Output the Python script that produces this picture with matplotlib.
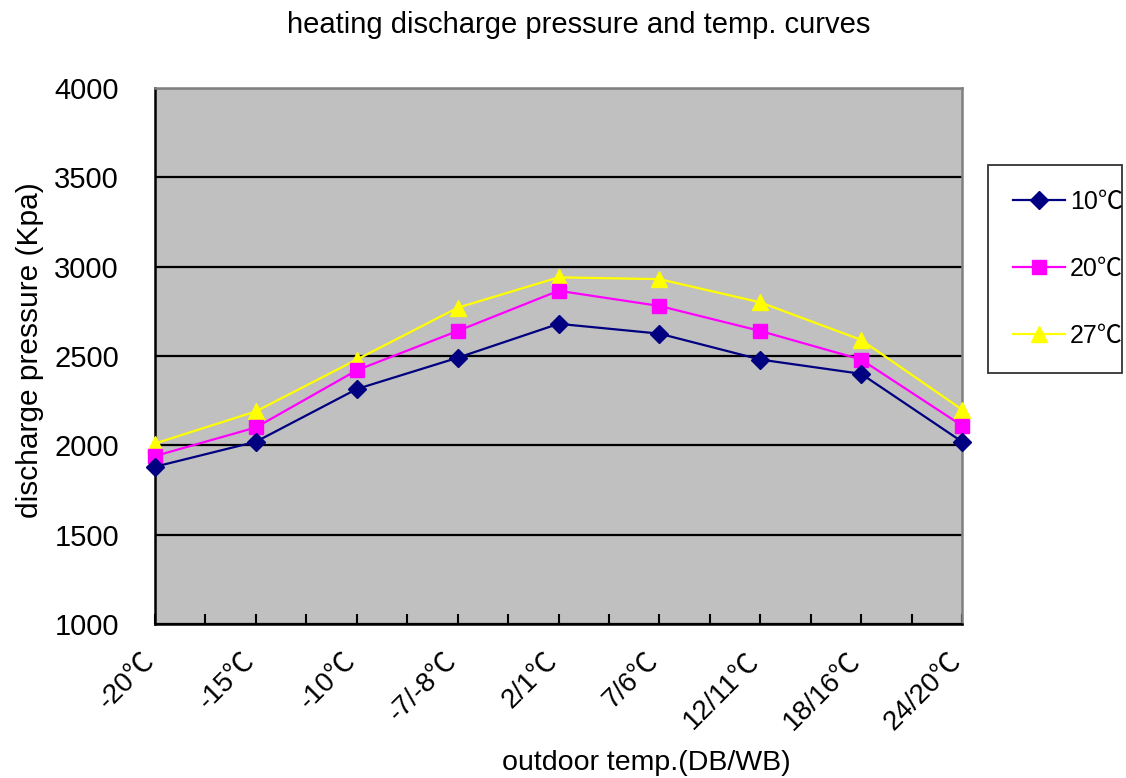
import matplotlib.pyplot as plt
import matplotlib.transforms as mtransforms

plt.rcParams['font.family'] = ['Liberation Sans', 'Noto Sans CJK SC', 'DejaVu Sans']

# outdoor conditions (DB/WB)
categorias = ['-20℃', '-15℃', '-10℃', '-7/-8℃', '2/1℃',
              '7/6℃', '12/11℃', '18/16℃', '24/20℃']
# discharge pressure (Kpa) per indoor temp
p_10 = [1880, 2020, 2315, 2490, 2680, 2625, 2480, 2400, 2020]
p_20 = [1940, 2100, 2420, 2640, 2865, 2780, 2640, 2480, 2110]
p_27 = [2010, 2190, 2480, 2770, 2940, 2930, 2800, 2590, 2200]
series = ['10℃', '20℃', '27℃']
yticks = [1000, 1500, 2000, 2500, 3000, 3500, 4000]

fig = plt.figure(figsize=(11.26, 7.78), dpi=100)
ax = fig.add_axes([0.1377, 0.198, 0.7167, 0.6889])
ax.set_facecolor('#C0C0C0')

x = list(range(len(categorias)))
ax.plot(x, p_10, color='#000080', lw=1.6, marker='D', ms=9,
        label=series[0], clip_on=False, zorder=5)
ax.plot(x, p_20, color='#FF00FF', lw=1.6, marker='s', ms=10,
        label=series[1], clip_on=False, zorder=4)
ax.plot(x, p_27, color='#FFFF00', lw=1.6, marker='^', ms=11,
        label=series[2], clip_on=False, zorder=3)

ax.set_xlim(0, len(categorias) - 1)
ax.set_ylim(1000, 4000)
ax.set_yticks(yticks)
ax.yaxis.grid(True, color='black', lw=1.6)
ax.set_axisbelow(True)
ax.tick_params(axis='y', length=0, labelsize=21, pad=26)

ax.set_xticks(x)
ax.set_xticks([i + 0.5 for i in x[:-1]], minor=True)
ax.tick_params(axis='x', which='both', direction='in', length=7, width=1.5, labelsize=20)
ax.set_xticklabels(categorias, rotation=45, ha='right', va='top', rotation_mode='anchor')
# los rótulos inclinados terminan justo bajo cada marca
offset = mtransforms.ScaledTranslation(-0.14, -0.19, fig.dpi_scale_trans)
for lbl in ax.get_xticklabels():
    lbl.set_transform(lbl.get_transform() + offset)

for lado in ['left', 'bottom']:
    ax.spines[lado].set_color('black')
    ax.spines[lado].set_linewidth(1.8)
for lado in ['top', 'right']:
    ax.spines[lado].set_color('#808080')
    ax.spines[lado].set_linewidth(1.8)

fig.text(0.514, 0.968, 'heating discharge pressure and temp. curves',
         ha='center', va='center', fontsize=21)
fig.text(0.574, 0.019, 'outdoor temp.(DB/WB)', ha='center', va='center', fontsize=20.5)
fig.text(0.027, 0.55, 'discharge pressure (Kpa)', ha='center', va='center',
         rotation=90, fontsize=21.5)

leg = ax.legend(loc='upper left', bbox_to_anchor=(0.8774, 0.522, 0.1190, 0.266),
                bbox_transform=fig.transFigure, mode='expand', fancybox=False,
                edgecolor='black', fontsize=18, handlelength=2.08,
                labelspacing=1.72, borderpad=1.0, handletextpad=0.2,
                borderaxespad=0)
leg.get_frame().set_linewidth(1.3)

fig.savefig('out.png', dpi=100)
